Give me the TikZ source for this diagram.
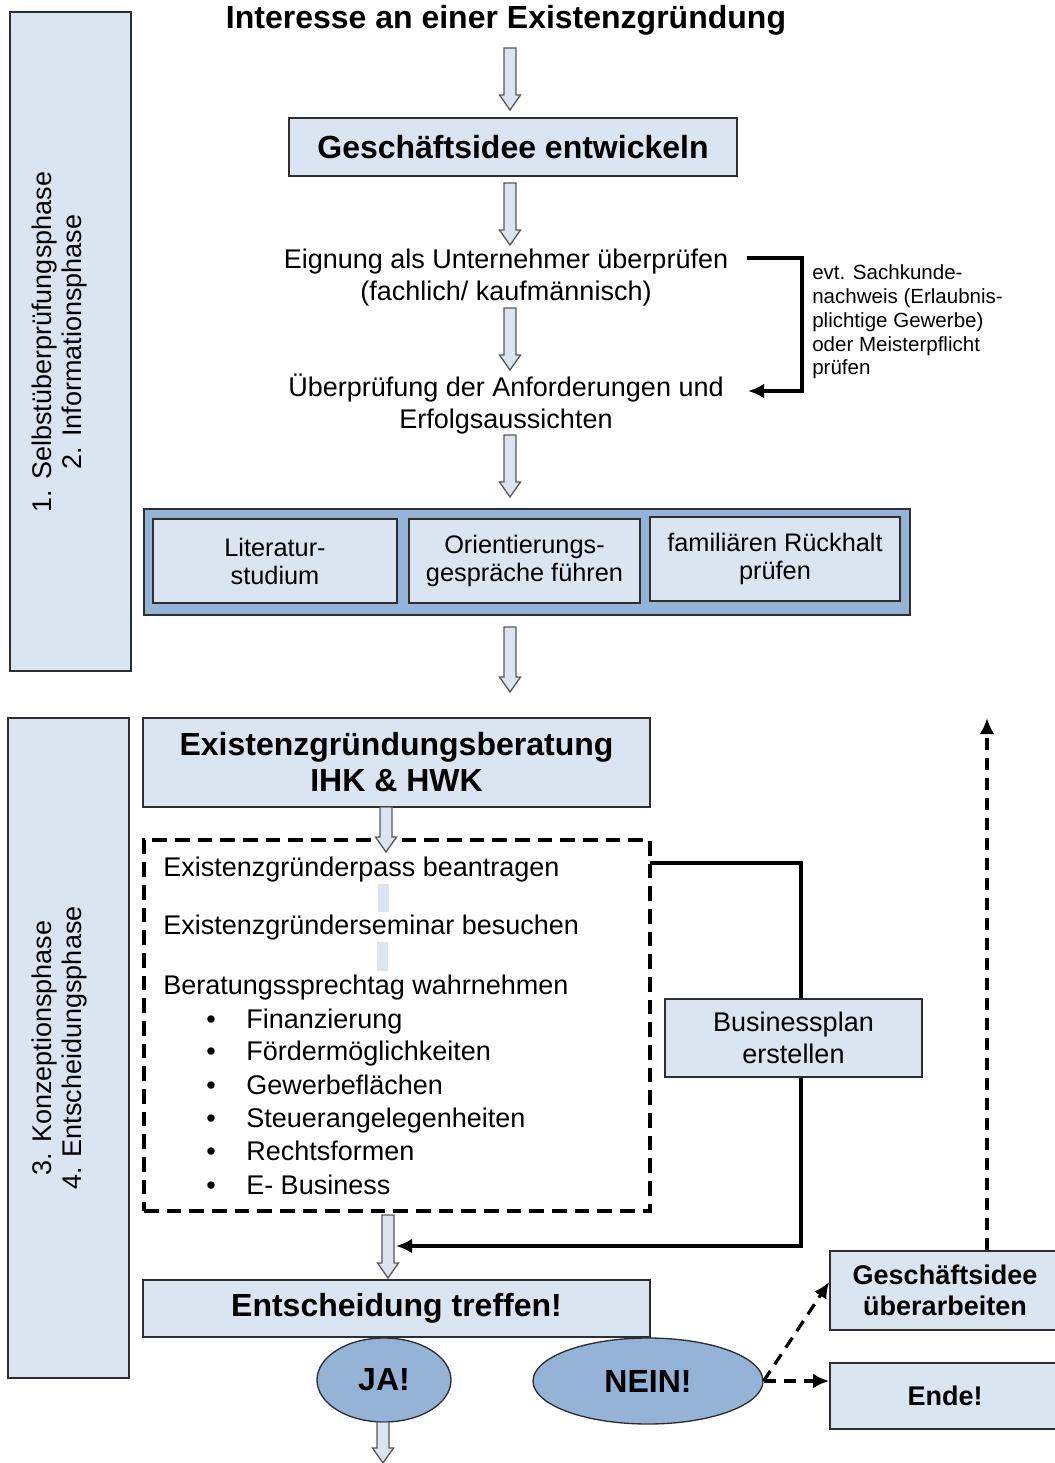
\documentclass[tikz,border=0pt]{standalone}
\usepackage{fontspec}
\setmainfont{Liberation Sans}
\usetikzlibrary{shapes.geometric,arrows.meta,calc}
\definecolor{lightfill}{HTML}{DBE5F1}
\definecolor{midfill}{HTML}{95B3D7}
\definecolor{edgecol}{HTML}{2E2E2E}
\definecolor{arrowedge}{HTML}{595959}
\newcommand\myfsreg{\fontsize{20.25pt}{24pt}\selectfont}
\newcommand\myfsbig{\fontsize{24pt}{27pt}\selectfont\bfseries}
\newcommand\myfsmid{\fontsize{20.25pt}{23.25pt}\selectfont\bfseries}
\newcommand\myfsnote{\fontsize{15.4pt}{17.8pt}\selectfont}
\newcommand\myfssmall{\fontsize{19pt}{21pt}\selectfont}
\newcommand\myfsbar{\fontsize{20.25pt}{22.5pt}\selectfont}
\newcommand\blockarr[3]{%
  \draw[barrow] (#1-6,#2) -- (#1+6,#2) -- (#1+6,#3-15) -- (#1+10.5,#3-15) -- (#1,#3)
    -- (#1-10.5,#3-15) -- (#1-6,#3-15) -- cycle;}
\begin{document}
\begin{tikzpicture}[x=0.75pt,y=-0.75pt,
  sized/.style 2 args={minimum width={#1*0.75pt}, minimum height={#2*0.75pt}},
  lbox/.style={draw=edgecol, line width=1.2pt, fill=lightfill, inner sep=0pt, align=center},
  mbox/.style={draw=edgecol, line width=1.4pt, fill=midfill, inner sep=0pt},
  dbox/.style={draw=black, line width=2.6pt, dash pattern=on 11pt off 6pt, inner sep=0pt},
  ovalnode/.style={ellipse, draw=edgecol, line width=1pt, fill=midfill, inner sep=0pt},
  plain/.style={inner sep=0pt, align=center},
  barrow/.style={draw=arrowedge, line width=1pt, fill=lightfill, line join=miter},
  conn/.style={draw=black, line width=2.6pt},
  tipped/.style={-{Latex[length=12pt,width=11pt]}},
  dconn/.style={draw=black, line width=2.4pt, dash pattern=on 9pt off 6pt, -{Latex[length=12pt,width=11pt]}},
  remnant/.style={fill=lightfill, draw=none}
]
\useasboundingbox (0,0) rectangle (1054,1463);

% phase bars
\node[lbox, sized={121}{659}] (bar1) at (70.5,341.5) {};
\node[plain, rotate=90, font=\myfsbar] (bar1txt) at (60,342) {1. Selbstüberprüfungsphase\\2. Informationsphase};
\node[lbox, sized={121}{660}] (bar2) at (68.5,1048) {};
\node[plain, rotate=90, font=\myfsbar] (bar2txt) at (60,1048) {3. Konzeptionsphase\\4. Entscheidungsphase};

% upper flow
\node[plain, font=\myfsbig] (title) at (506,20) {Interesse an einer Existenzgründung};
\blockarr{510}{48}{110}
\node[lbox, sized={448}{58}, font=\myfsbig] (gi) at (513,147) {Geschäftsidee entwickeln};
\blockarr{510}{183}{245}
\node[plain, font=\myfsreg] (eig) at (506,278) {Eignung als Unternehmer überprüfen\\(fachlich/ kaufmännisch)};
\blockarr{510}{308}{370}
\node[plain, font=\myfsreg] (ueb) at (506,404) {Überprüfung der Anforderungen und\\Erfolgsaussichten};
\node[plain, anchor=west, align=left, font=\myfsnote] (note) at (812,322)
  {evt. Sachkunde-\\nachweis (Erlaubnis-\\plichtige Gewerbe)\\oder Meisterpflicht\\prüfen};
\coordinate (sA) at (747,258);
\coordinate (sB) at (748,391);
\draw[conn, tipped] (sA) -- (802,258) |- (sB);
\blockarr{510}{435}{497}

\node[mbox, sized={766}{106}] (outer) at (527,562) {};
\node[lbox, sized={244}{84}, font=\myfssmall] (lit) at (275,561) {Literatur-\\studium};
\node[lbox, sized={231}{84}, font=\myfssmall] (ori) at (524.5,561) {Orientierungs-\\gespräche führen};
\node[lbox, sized={250}{84}, font=\myfssmall] (fam) at (775,559) {familiären Rückhalt\\prüfen};
\blockarr{510}{627}{692}

% lower flow
\node[lbox, sized={507}{89}, font=\myfsbig] (egb) at (396.5,762.5) {Existenzgründungsberatung\\IHK \& HWK};
\node[dbox, sized={506}{371}] (dashbox) at (397,1025.5) {};
\fill[remnant] (378,884) rectangle (389,912);
\fill[remnant] (377,942) rectangle (388,971);
\blockarr{386}{807}{852}

\node[plain, anchor=base west, font=\myfsreg] (t1) at (163,876) {Existenzgründerpass beantragen};
\node[plain, anchor=base west, font=\myfsreg] (t2) at (163,934) {Existenzgründerseminar besuchen};
\node[plain, anchor=base west, font=\myfsreg] (t3) at (163,994) {Beratungssprechtag wahrnehmen};
\foreach \yy/\txt [count=\i] in {1028/Finanzierung,1060/Fördermöglichkeiten,1094/Gewerbeflächen,1127/Steuerangelegenheiten,1160/Rechtsformen,1194/E- Business}{
  \node[plain, anchor=base, font=\myfsreg] (bul\i) at (211,\yy) {•};
  \node[plain, anchor=base west, font=\myfsreg] (item\i) at (246,\yy) {\txt};
}

\node[lbox, sized={257}{78}, font=\myfsreg] (bp) at (793.5,1038) {Businessplan\\erstellen};
\coordinate (dOut) at (650,863);
\coordinate (a7in) at (396,1246);
\draw[conn] (dOut) -| ($(bp.north)+(7.5,0)$);
\draw[conn, tipped] ($(bp.south)+(7.5,0)$) |- (a7in);

\blockarr{388}{1215}{1278}
\node[lbox, sized={507}{57}, font=\myfsbig] (ent) at (396.5,1308.5) {Entscheidung treffen!};
\node[ovalnode, sized={134}{84}, font=\myfsbig] (ja) at (384,1380) {JA!};
\node[ovalnode, sized={230}{86}, font=\myfsbig] (nein) at (648,1381) {NEIN!};
\blockarr{383}{1422}{1463}

\node[lbox, sized={230}{79}, font=\myfsmid] (gu) at (945,1290.5) {Geschäftsidee\\überarbeiten};
\node[lbox, sized={230}{66}, font=\myfsmid] (ende) at (945,1396) {Ende!};

\draw[dconn] (nein.east) -- ($(gu.west)+(0,-8.5)$);
\draw[dconn] (nein.east) -- (ende.west |- nein.east);
\coordinate (upEnd) at (987,718);
\draw[dconn] ($(gu.north)+(42,0)$) -- (upEnd);
\end{tikzpicture}
\end{document}
